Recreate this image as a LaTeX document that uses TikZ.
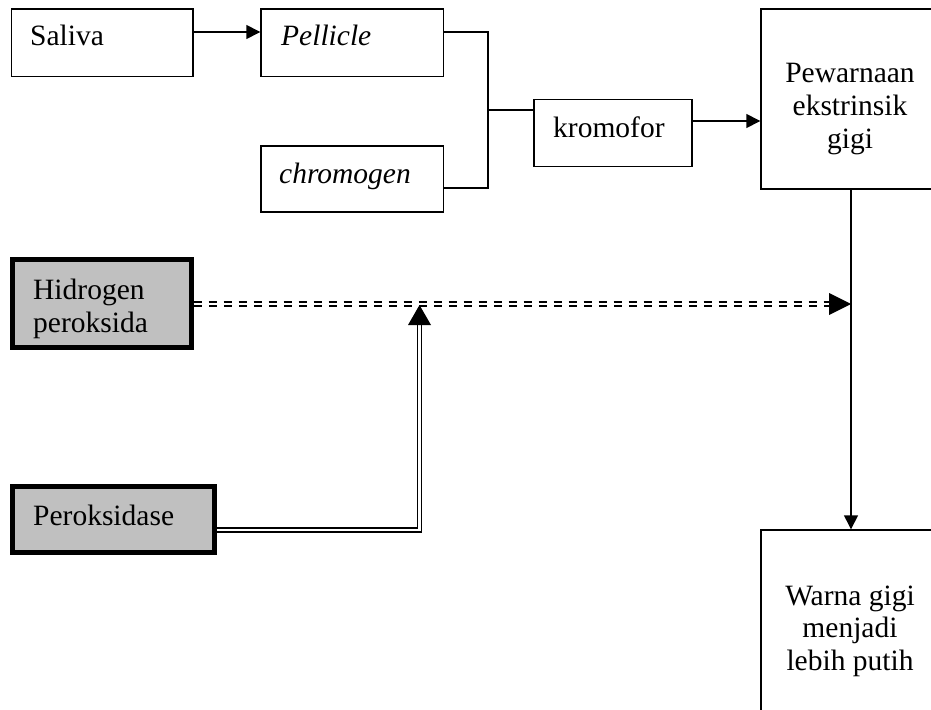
\documentclass[tikz,border=0pt]{standalone}
\usepackage{fontspec}
\setmainfont{Liberation Serif}
\usetikzlibrary{arrows.meta,calc}
\definecolor{boxgray}{HTML}{C0C0C0}
\begin{document}
\begin{tikzpicture}[x=1pt,y=-1pt,
  tbox/.style={draw, line width=1.4pt, rectangle, inner sep=0pt},
  kbox/.style={draw, line width=5pt, fill=boxgray, rectangle, inner sep=0pt},
  txt/.style={inner sep=0pt, font=\fontsize{29.5}{33}\selectfont},
  conn/.style={line width=1.4pt},
  arr/.style={line width=1.4pt, -{Triangle[length=14pt,width=14pt]}},
  dbl/.style={double, line width=1.7pt, double distance=2.4pt},
  dbldash/.style={double, line width=2.3pt, double distance=1.8pt, dash pattern=on 8.5pt off 6.5pt}
]
\useasboundingbox (0,0) rectangle (931,709);
\clip (0,0) rectangle (931,709);

% boxes
\node[tbox, minimum width=181.5pt, minimum height=67.5pt] (saliva) at (102.25,42.75) {};
\node[tbox, minimum width=182.5pt, minimum height=67.5pt] (pellicle) at (352.25,42.75) {};
\node[tbox, minimum width=182.5pt, minimum height=66pt] (chromogen) at (352.25,179) {};
\node[tbox, minimum width=158pt, minimum height=67pt] (kromofor) at (613,133) {};
\node[tbox, minimum width=180pt, minimum height=180pt] (pewarnaan) at (851,99) {};
\node[tbox, minimum width=180pt, minimum height=210pt] (warna) at (851,635) {};
\node[kbox, minimum width=179pt, minimum height=88.5pt] (hid) at (101.5,303.25) {};
\node[kbox, minimum width=202.5pt, minimum height=66pt] (perox) at (113.25,519) {};

% texts
\node[txt, anchor=base west] (tsal) at (30,46) {Saliva};
\node[txt, anchor=base west] (tpel) at (281,46) {\itshape Pellicle};
\node[txt, anchor=base west] (tchr) at (279,183) {\itshape chromogen};
\node[txt, anchor=base west] (tkro) at (553,137) {kromofor};
\node[txt, anchor=base] (tpw1) at (850,82) {Pewarnaan};
\node[txt, anchor=base] (tpw2) at (850,115) {ekstrinsik};
\node[txt, anchor=base] (tpw3) at (850,148) {gigi};
\node[txt, anchor=base west] (thid1) at (33,299) {Hidrogen};
\node[txt, anchor=base west] (thid2) at (33,332) {peroksida};
\node[txt, anchor=base west] (tper) at (33,525) {Peroksidase};
\node[txt, anchor=base] (twa1) at (850,605) {Warna gigi};
\node[txt, anchor=base] (twa2) at (850,637) {menjadi};
\node[txt, anchor=base] (twa3) at (850,670) {lebih putih};

% connectors, top part
\coordinate (jtop) at (488,32);
\coordinate (jbot) at (488,188);
\coordinate (jn) at (488,110);
\draw[arr] ([yshift=10.75pt]saliva.east) -- ([yshift=10.75pt]pellicle.west);
\draw[conn] (pellicle.east |- jtop) -- (jtop) -- (jbot) -- (chromogen.east |- jbot);
\draw[line width=1.8pt] (jn) -- (kromofor.west |- jn);
\draw[arr] ([yshift=12pt]kromofor.east) coordinate (k1) -- (k1 -| pewarnaan.west);
\draw[arr] (pewarnaan.south) -- (warna.north);

% hydrogen peroxide dashed double arrow
\coordinate (hit) at (851,304);
\draw[dbldash] (hid.east |- hit) -- ([xshift=-21pt]hit);
\fill (hit) -- ++(-22,-11) -- ++(0,22) -- cycle;

% peroksidase double arrow
\coordinate (uptip) at (419.5,305);
\draw[dbl] ([yshift=-11pt]perox.east) coordinate (p1) -- (p1 -| uptip) -- ([yshift=-19pt]uptip);
\fill (uptip) -- ++(-11.5,20) -- ++(23,0) -- cycle;
\end{tikzpicture}
\end{document}
